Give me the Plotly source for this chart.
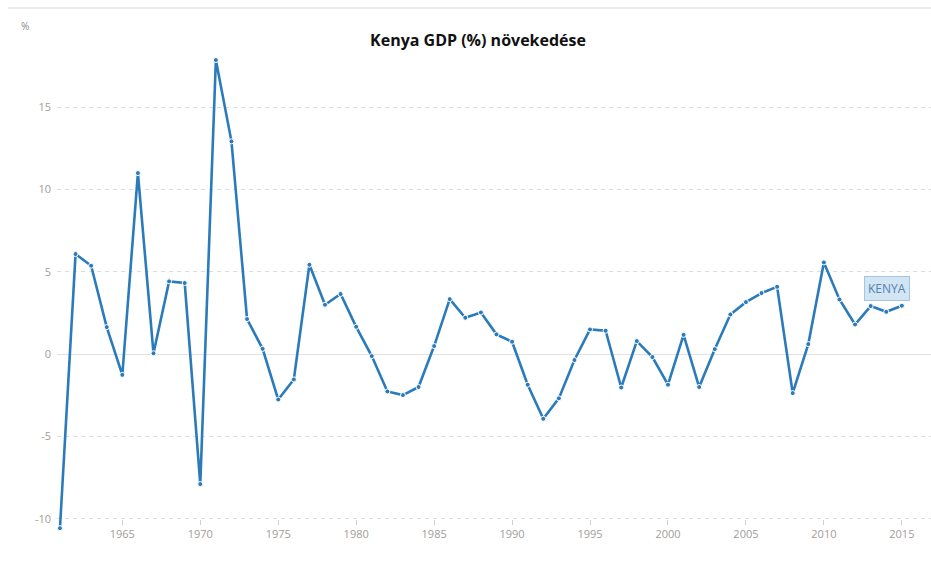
import plotly.graph_objects as go

years = list(range(1961, 2016))
growth = [-10.58, 6.08, 5.37, 1.64, -1.26, 11.0, 0.05, 4.42, 4.32, -7.9,
          17.87, 12.93, 2.13, 0.32, -2.76, -1.54, 5.43, 3.0, 3.65, 1.66,
          -0.12, -2.27, -2.49, -2.0, 0.49, 3.34, 2.21, 2.53, 1.2, 0.75,
          -1.86, -3.93, -2.69, -0.36, 1.5, 1.42, -2.03, 0.79, -0.18, -1.86,
          1.17, -2.0, 0.30, 2.41, 3.16, 3.71, 4.09, -2.37, 0.61, 5.57,
          3.32, 1.8, 2.92, 2.57, 2.94]
x_ticks = [1965, 1970, 1975, 1980, 1985, 1990, 1995, 2000, 2005, 2010, 2015]
y_ticks = [-10, -5, 0, 5, 10, 15]
series_name = "KENYA"
title_text = "Kenya GDP (%) növekedése"

LINE = "#2b7bba"
GRAY_TXT = "#a19d9a"

fig = go.Figure()
fig.add_trace(go.Scatter(
    x=years, y=growth, mode="lines+markers", name=series_name,
    line=dict(color=LINE, width=2.6),
    marker=dict(size=5, color=LINE, line=dict(color="white", width=1)),
    cliponaxis=False, showlegend=False,
))

fig.add_annotation(
    x=2014.04, y=4.0, xref="x", yref="y", text=series_name, showarrow=False,
    bgcolor="#d3e4f2", bordercolor="#9fc6e4", borderwidth=1, borderpad=3,
    font=dict(family="Open Sans, sans-serif", size=12, color="#4f83b3"),
)
fig.add_annotation(
    x=(25 - 57) / 874, y=(531 - 26) / 506, xref="paper", yref="paper",
    xanchor="center", yanchor="middle",
    text="%", showarrow=False,
    font=dict(family="Open Sans, sans-serif", size=10, color="#8a8a8a"),
)

fig.add_shape(type="line", xref="paper", yref="paper",
              x0=(8 - 57) / 874, x1=1.0, y0=(531 - 8) / 506, y1=(531 - 8) / 506,
              line=dict(color="#e3e6ea", width=1.5))

fig.update_layout(
    width=931, height=572,
    margin=dict(l=57, r=0, t=25, b=41),
    paper_bgcolor="white", plot_bgcolor="white",
    title=dict(text="<b>" + title_text + "</b>", x=(478) / 931, xanchor="center",
               y=1 - 40 / 572, yanchor="middle",
               font=dict(family="Open Sans, sans-serif", size=16, color="#111111")),
    font=dict(family="Open Sans, sans-serif"),
)
fig.update_xaxes(
    range=[1960.81, 2016.87], tickvals=x_ticks, ticktext=[str(v) for v in x_ticks],
    showgrid=False, zeroline=False, showline=False,
    ticks="outside", ticklen=5, tickcolor="#d0d0d0", tickwidth=1,
    anchor="free", position=(0.75 / 30.75),
    tickfont=dict(size=11, color=GRAY_TXT),
)
fig.update_yaxes(
    range=[-10.75, 20], tickvals=y_ticks, ticktext=[str(v) for v in y_ticks],
    showgrid=True, gridcolor="#dcdcdc", griddash="4px,4px", gridwidth=1,
    zeroline=True, zerolinecolor="#e2e2e2", zerolinewidth=1.2,
    showline=False, ticks="", ticklabelstandoff=5,
    tickfont=dict(size=11, color=GRAY_TXT),
)

fig.write_html("out.html", config={"displayModeBar": False},
               post_script="document.body.style.margin='0';document.body.style.padding='0';")
